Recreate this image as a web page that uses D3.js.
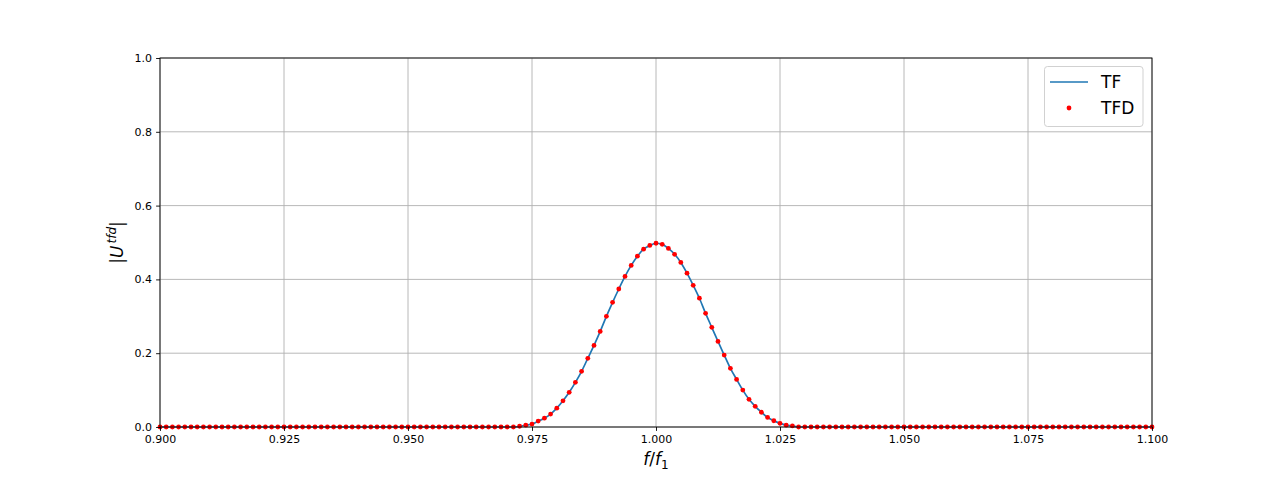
<!DOCTYPE html>
<html>
<head>
<meta charset="utf-8">
<script src="https://cdn.jsdelivr.net/npm/d3@7"></script>
<style>
  html, body { margin: 0; padding: 0; background: #fff; }
  svg { display: block; font-family: "DejaVu Sans", sans-serif; }
</style>
</head>
<body>
<svg id="chart" width="1280" height="480"></svg>
<script>
// ---- data ----
const freqStart = 0.9;      // f/f1 of first sample
const freqStep = 0.00125;   // sampling step in f/f1
const amplitude = [
  0,0,0,0,0,0,0,0,0,0, 0,0,0,0,0,0,0,0,0,0,
  0,0,0,0,0,0,0,0,0,0, 0,0,0,0,0,0,0,0,0,0,
  0,0,0,0,0,0,0,0,0,0, 0,0,0,0,0,0,0,0,
  0.002, 0.005, 0.008, 0.016, 0.024, 0.035, 0.051, 0.071, 0.094, 0.121,
  0.151, 0.186, 0.221, 0.259, 0.300, 0.338, 0.374, 0.408, 0.438, 0.463,
  0.482, 0.492, 0.498, 0.495, 0.484, 0.468, 0.446, 0.417, 0.384, 0.349,
  0.308, 0.270, 0.232, 0.195, 0.159, 0.129, 0.100, 0.075, 0.056, 0.040,
  0.026, 0.017, 0.010, 0.005, 0.003,
  0,0,0,0,0,0,0,0,0,0, 0,0,0,0,0,0,0,0,0,0,
  0,0,0,0,0,0,0,0,0,0, 0,0,0,0,0,0,0,0,0,0,
  0,0,0,0,0,0,0,0,0,0, 0,0,0,0,0,0,0,0
];
const xTicks = [0.9, 0.925, 0.95, 0.975, 1.0, 1.025, 1.05, 1.075, 1.1];
const yTicks = [0.0, 0.2, 0.4, 0.6, 0.8, 1.0];
const seriesNames = ["TF", "TFD"];

const data = amplitude.map((v, i) => ({ f: freqStart + i * freqStep, v }));

// ---- layout ----
const svg = d3.select("#chart");
const mLeft = 160, mRight = 1152, mTop = 58, mBottom = 427;
const x = d3.scaleLinear().domain([0.9, 1.1]).range([mLeft, mRight]);
const y = d3.scaleLinear().domain([0, 1]).range([mBottom, mTop]);

const gridColor = "#b0b0b0";

// grid
const grid = svg.append("g");
grid.selectAll("line.gx").data(xTicks).enter().append("line")
  .attr("x1", d => x(d)).attr("x2", d => x(d))
  .attr("y1", mTop).attr("y2", mBottom)
  .attr("stroke", gridColor).attr("stroke-width", 0.9);
grid.selectAll("line.gy").data(yTicks).enter().append("line")
  .attr("x1", mLeft).attr("x2", mRight)
  .attr("y1", d => y(d)).attr("y2", d => y(d))
  .attr("stroke", gridColor).attr("stroke-width", 0.9);

// TF line
const line = d3.line().x(d => x(d.f)).y(d => y(d.v)).curve(d3.curveMonotoneX);
svg.append("path").datum(data)
  .attr("d", line)
  .attr("fill", "none")
  .attr("stroke", "#1f77b4")
  .attr("stroke-width", 1.7);

// TFD points
svg.append("g").selectAll("circle").data(data).enter().append("circle")
  .attr("cx", d => x(d.f)).attr("cy", d => y(d.v))
  .attr("r", 2.4).attr("fill", "#ff0000");

// axes
const xAxis = d3.axisBottom(x).tickValues(xTicks).tickFormat(d3.format(".3f"))
  .tickSize(3.9).tickPadding(4);
const yAxis = d3.axisLeft(y).tickValues(yTicks).tickFormat(d3.format(".1f"))
  .tickSize(3.9).tickPadding(4);

const gx = svg.append("g").attr("transform", `translate(0,${mBottom})`).call(xAxis);
const gy = svg.append("g").attr("transform", `translate(${mLeft},0)`).call(yAxis);
[gx, gy].forEach(g => {
  g.select(".domain").remove();
  g.selectAll(".tick line").attr("stroke", "#000").attr("stroke-width", 0.9);
  g.selectAll(".tick text").attr("fill", "#000")
    .style("font-family", "DejaVu Sans").style("font-size", "11px");
});

// frame
svg.append("rect")
  .attr("x", mLeft).attr("y", mTop)
  .attr("width", mRight - mLeft).attr("height", mBottom - mTop)
  .attr("fill", "none").attr("stroke", "#000").attr("stroke-width", 0.9);

// x label f/f1
const xl = svg.append("text")
  .attr("x", (mLeft + mRight) / 2).attr("y", 465)
  .attr("text-anchor", "middle")
  .style("font-family", "DejaVu Sans").style("font-size", "17px");
xl.append("tspan").style("font-style", "italic").text("f");
xl.append("tspan").text("/");
xl.append("tspan").style("font-style", "italic").text("f");
xl.append("tspan").attr("dy", 4).style("font-size", "12px").text("1");

// y label |U^tfd|
const yl = svg.append("text")
  .attr("transform", `translate(123,${(mTop + mBottom) / 2}) rotate(-90)`)
  .attr("text-anchor", "middle")
  .style("font-family", "DejaVu Sans").style("font-size", "17px");
yl.append("tspan").text("|");
yl.append("tspan").style("font-style", "italic").text("U");
yl.append("tspan").attr("dy", -7).attr("dx", 2).style("font-size", "12px").style("font-style", "italic").text("tfd");
yl.append("tspan").attr("dy", 7).text("|");

// legend
const lg = svg.append("g");
lg.append("rect")
  .attr("x", 1044.5).attr("y", 66.5).attr("width", 98.5).attr("height", 60)
  .attr("rx", 3).attr("ry", 3)
  .attr("fill", "#fff").attr("fill-opacity", 0.8)
  .attr("stroke", "#cccccc").attr("stroke-width", 0.9);
lg.append("line")
  .attr("x1", 1050).attr("x2", 1088).attr("y1", 82).attr("y2", 82)
  .attr("stroke", "#1f77b4").attr("stroke-width", 1.7);
lg.append("circle").attr("cx", 1069).attr("cy", 108).attr("r", 2.4).attr("fill", "#ff0000");
lg.selectAll("text").data(seriesNames).enter().append("text")
  .attr("x", 1101).attr("y", (d, i) => 88 + i * 26)
  .style("font-family", "DejaVu Sans").style("font-size", "17px")
  .attr("fill", "#000")
  .text(d => d);
</script>
</body>
</html>
